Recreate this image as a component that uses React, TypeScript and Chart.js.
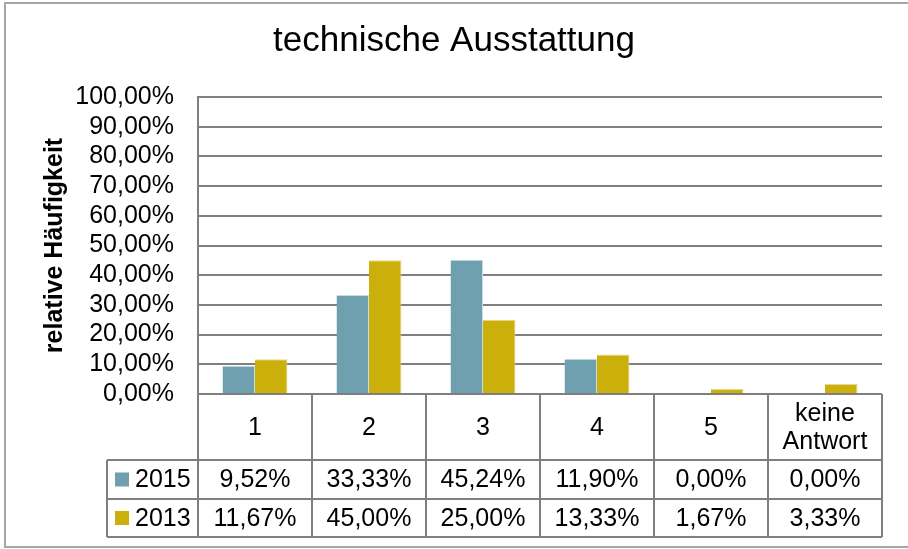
import React, { useEffect, useRef } from 'react';
import { Chart, registerables } from 'chart.js';

Chart.register(...registerables);

const TITLE = 'technische Ausstattung';
const Y_TITLE = 'relative Häufigkeit';
const CATEGORIES: (string | string[])[] = ['1', '2', '3', '4', '5', ['keine', 'Antwort']];
const SERIES_NAMES = ['2015', '2013'];
const VALUES_2015 = [9.52, 33.33, 45.24, 11.9, 0.0, 0.0];
const VALUES_2013 = [11.67, 45.0, 25.0, 13.33, 1.67, 3.33];
const SERIES_COLORS = ['#6FA0AF', '#CBAF0A'];
const Y_MAX = 100;
const Y_STEP = 10;

const FONT = "'Liberation Sans', Arial, Helvetica, sans-serif";
const GRID = '#7f7f7f';
const TEXT_SIZE = 25;

const fmt = (v: number) => v.toFixed(2).replace('.', ',') + '%';

const framePlugin = {
  id: 'frame',
  beforeDraw(chart: any) {
    const { ctx, width, height } = chart;
    ctx.save();
    ctx.fillStyle = '#ffffff';
    ctx.fillRect(0, 0, width, height);
    ctx.strokeStyle = '#a6a6a6';
    ctx.lineWidth = 2;
    ctx.strokeRect(5, 3, width + 10, height - 5);
    ctx.restore();
  },
};

const tablePlugin = {
  id: 'dataTable',
  afterDraw(chart: any) {
    const { ctx, chartArea, scales } = chart;
    const xs = scales.x;
    const n = CATEGORIES.length;
    const left = chartArea.left;
    const right = chartArea.right;
    const top = chartArea.bottom;
    const bottom = xs.bottom;
    const cw = (right - left) / n;
    const r1 = top + 66;
    const r2 = r1 + 39;
    const r3 = bottom;
    const legLeft = left - 91;
    const series = [VALUES_2015, VALUES_2013];

    ctx.save();
    ctx.strokeStyle = GRID;
    ctx.lineWidth = 2;
    ctx.beginPath();
    ctx.moveTo(left, top); ctx.lineTo(right, top);
    [r1, r2, r3].forEach((y) => { ctx.moveTo(legLeft, y); ctx.lineTo(right, y); });
    for (let k = 0; k <= n; k++) {
      const x = left + k * cw;
      ctx.moveTo(x, top); ctx.lineTo(x, r3);
    }
    ctx.moveTo(legLeft, r1); ctx.lineTo(legLeft, r3);
    ctx.stroke();

    ctx.fillStyle = '#000000';
    ctx.font = `${TEXT_SIZE}px ${FONT}`;
    ctx.textAlign = 'center';
    ctx.textBaseline = 'middle';
    CATEGORIES.forEach((c, i) => {
      const cx = xs.getPixelForValue(i);
      const cy = (top + r1) / 2 + 1;
      if (Array.isArray(c)) {
        const lh = 28;
        c.forEach((line, j) => {
          ctx.fillText(line, cx, cy + (j - (c.length - 1) / 2) * lh);
        });
      } else {
        ctx.fillText(c, cx, cy);
      }
    });
    const rowsY = [(r1 + r2) / 2, (r2 + r3) / 2];
    series.forEach((vals, s) => {
      vals.forEach((v, i) => {
        ctx.fillText(fmt(v), xs.getPixelForValue(i), rowsY[s] + 1);
      });
      ctx.fillStyle = SERIES_COLORS[s];
      ctx.fillRect(legLeft + 8, rowsY[s] - 7, 14, 14);
      ctx.fillStyle = '#000000';
      ctx.textAlign = 'left';
      ctx.fillText(SERIES_NAMES[s], legLeft + 28, rowsY[s] + 1);
      ctx.textAlign = 'center';
    });
    ctx.restore();
  },
};

export default function App() {
  const ref = useRef<HTMLCanvasElement>(null);
  useEffect(() => {
    if (!ref.current) return;
    const chart = new Chart(ref.current, {
      type: 'bar',
      data: {
        labels: CATEGORIES as any,
        datasets: [
          {
            label: SERIES_NAMES[0],
            data: VALUES_2015,
            backgroundColor: SERIES_COLORS[0],
            borderColor: '#c8dde3',
            borderWidth: { top: 1, right: 1, left: 0, bottom: 0 } as any,
          },
          {
            label: SERIES_NAMES[1],
            data: VALUES_2013,
            backgroundColor: SERIES_COLORS[1],
            borderColor: '#ead98a',
            borderWidth: { top: 1, right: 1, left: 0, bottom: 0 } as any,
          },
        ],
      },
      options: {
        animation: false,
        responsive: false,
        maintainAspectRatio: false,
        layout: { padding: { top: 10, left: 0, right: 0, bottom: 12 } },
        datasets: { bar: { categoryPercentage: 0.57, barPercentage: 1 } },
        plugins: {
          legend: { display: false },
          tooltip: { enabled: false },
          title: {
            display: true,
            text: TITLE,
            color: '#000000',
            font: { family: FONT, size: 35, weight: 'normal', lineHeight: 1.2 },
            padding: { top: 10, bottom: 35 },
          },
        },
        scales: {
          x: {
            ticks: { display: false },
            grid: { display: false },
            border: { display: false },
            afterFit: (scale: any) => { scale.height = 143; },
          },
          y: {
            min: 0,
            max: Y_MAX,
            ticks: {
              stepSize: Y_STEP,
              autoSkip: false,
              padding: 24,
              color: '#000000',
              font: { family: FONT, size: TEXT_SIZE, lineHeight: 1 },
              callback: (v: any) => fmt(Number(v)),
            },
            grid: { color: GRID, lineWidth: 2, drawTicks: false },
            border: { display: true, color: GRID, width: 2 },
            title: {
              display: true,
              text: Y_TITLE,
              color: '#000000',
              font: { family: FONT, size: 25, weight: 'bold', lineHeight: 1.2 },
              padding: { top: 40, bottom: 0 },
            },
            afterFit: (scale: any) => { scale.width = 198; },
          },
          yRight: {
            type: 'linear',
            position: 'right',
            display: true,
            ticks: { display: false },
            grid: { display: false },
            border: { display: false },
            afterFit: (scale: any) => { scale.width = 26; },
          },
        },
      },
      plugins: [framePlugin, tablePlugin],
    });
    return () => chart.destroy();
  }, []);
  return (
    <div style={{ position: 'fixed', left: 0, top: 0, width: 908, height: 549 }}>
      <canvas ref={ref} width={908} height={549} />
    </div>
  );
}
